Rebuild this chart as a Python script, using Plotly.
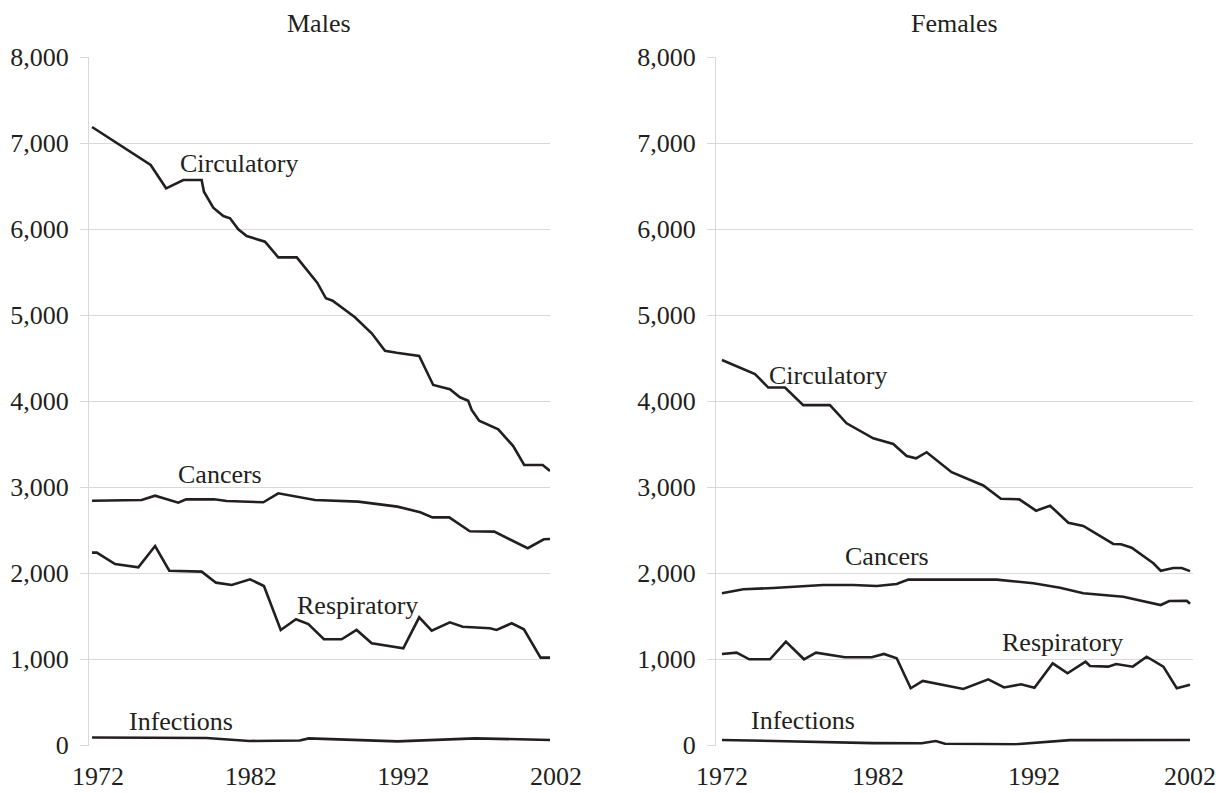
import plotly.graph_objects as go

# ---------------- data ----------------
tick_years = [1972, 1982, 1992, 2002]
y_ticks = [0, 1000, 2000, 3000, 4000, 5000, 6000, 7000, 8000]

# Males
m_circ_x = [1972.0, 1975.84, 1976.85, 1977.98, 1979.18, 1979.33, 1979.94, 1980.6, 1981.04, 1981.58,
            1982.13, 1983.33, 1984.2, 1985.41, 1986.75, 1987.32, 1987.76, 1989.22, 1990.32, 1991.19,
            1991.95, 1993.43, 1994.35, 1995.44, 1996.1, 1996.64, 1996.87, 1997.36, 1998.61, 1999.59,
            2000.31, 2001.52, 2002.0]
m_circ_y = [7190, 6748, 6477, 6573, 6573, 6437, 6251, 6155, 6128, 6000,
            5922, 5856, 5674, 5674, 5379, 5198, 5170, 4977, 4791, 4588,
            4565, 4527, 4190, 4140, 4047, 4007, 3899, 3774, 3674, 3480,
            3259, 3259, 3190]

m_canc_x = [1972.0, 1975.25, 1976.13, 1977.65, 1978.16, 1979.99, 1980.82, 1983.22, 1984.2, 1985.29,
            1986.6, 1989.44, 1992.0, 1993.5, 1994.3, 1995.4, 1996.75, 1998.35, 2000.54, 2001.6, 2002.0]
m_canc_y = [2844, 2852, 2902, 2821, 2860, 2860, 2841, 2826, 2930, 2891,
            2852, 2833, 2775, 2710, 2650, 2650, 2488, 2484, 2291, 2395, 2399]

m_resp_x = [1972.0, 1972.31, 1973.51, 1975.03, 1976.13, 1977.06, 1979.18, 1980.12, 1981.15, 1982.35,
            1983.26, 1984.36, 1985.36, 1986.17, 1987.19, 1988.35, 1989.33, 1990.32, 1992.39, 1993.43,
            1994.25, 1995.44, 1996.28, 1998.06, 1998.5, 1999.49, 2000.29, 2001.38, 2002.0]
m_resp_y = [2240, 2240, 2108, 2070, 2317, 2030, 2019, 1891, 1864, 1930,
            1852, 1341, 1465, 1410, 1233, 1233, 1341, 1186, 1128, 1488,
            1333, 1430, 1379, 1360, 1341, 1419, 1349, 1019, 1019]

m_inf_x = [1972.0, 1976.0, 1979.5, 1982.3, 1985.6, 1986.2, 1988.3, 1992.0, 1997.1, 2002.0]
m_inf_y = [90, 88, 85, 50, 55, 80, 66, 45, 80, 62]

# Females
f_circ_x = [1972.0, 1974.12, 1974.97, 1976.04, 1977.21, 1978.92, 1979.99, 1981.7, 1982.98, 1983.84,
            1984.44, 1985.12, 1986.72, 1988.75, 1989.88, 1991.06, 1992.13, 1993.03, 1994.2, 1995.16,
            1997.08, 1997.58, 1998.26, 1999.65, 2000.12, 2000.93, 2001.47, 2002.0]
f_circ_y = [4480, 4317, 4160, 4160, 3955, 3955, 3744, 3570, 3503, 3364,
            3337, 3408, 3176, 3021, 2866, 2860, 2728, 2786, 2588, 2550,
            2341, 2337, 2298, 2116, 2030, 2062, 2062, 2025]

f_canc_x = [1972.0, 1973.37, 1975.29, 1978.49, 1980.42, 1981.92, 1983.2, 1983.94, 1989.61, 1991.96,
            1993.67, 1995.16, 1997.72, 1999.01, 2000.12, 2000.67, 2001.79, 2002.0]
f_canc_y = [1767, 1814, 1829, 1864, 1864, 1852, 1876, 1926, 1926, 1884,
            1833, 1767, 1728, 1678, 1631, 1678, 1681, 1645]

f_resp_x = [1972.0, 1972.94, 1973.75, 1975.08, 1976.1, 1977.26, 1978.03, 1979.88, 1981.6, 1982.38,
            1983.2, 1984.1, 1984.87, 1987.47, 1989.07, 1990.08, 1991.17, 1992.03, 1993.2, 1994.15,
            1995.3, 1995.59, 1996.76, 1997.26, 1998.33, 1999.22, 2000.29, 2001.15, 2002.0]
f_resp_y = [1062, 1077, 1000, 1000, 1205, 1000, 1077, 1023, 1023, 1062,
            1012, 663, 748, 655, 767, 672, 709, 668, 953, 837,
            972, 922, 914, 945, 914, 1030, 914, 663, 705]

f_inf_x = [1972.0, 1981.7, 1984.8, 1985.7, 1986.3, 1990.8, 1994.3, 2002.0]
f_inf_y = [62, 25, 23, 50, 17, 12, 60, 62]

panel_titles = ["Males", "Females"]

# label names and positions (x year, y value)
male_labels = [("Circulatory", 1981.6, 6760), ("Cancers", 1980.4, 3145),
               ("Respiratory", 1989.4, 1630), ("Infections", 1977.8, 275)]
female_labels = [("Circulatory", 1978.8, 4300), ("Cancers", 1982.6, 2190),
                 ("Respiratory", 1993.8, 1200), ("Infections", 1977.2, 288)]

# ---------------- figure ----------------
W, H = 1216, 793
FONT = "Liberation Serif, Times New Roman, serif"
INK = "#231f20"
GRID = "#d9d9d9"

fig = go.Figure()
line = dict(color=INK, width=2.6)
for xs, ys, ax in [(m_circ_x, m_circ_y, "x"), (m_canc_x, m_canc_y, "x"),
                   (m_resp_x, m_resp_y, "x"), (m_inf_x, m_inf_y, "x"),
                   (f_circ_x, f_circ_y, "x2"), (f_canc_x, f_canc_y, "x2"),
                   (f_resp_x, f_resp_y, "x2"), (f_inf_x, f_inf_y, "x2")]:
    fig.add_trace(go.Scatter(x=xs, y=ys, mode="lines", line=line,
                             xaxis=ax, yaxis="y" if ax == "x" else "y2",
                             showlegend=False, hoverinfo="skip"))

y_bot = (H - 745.7) / H
y_top = (H - 56.9) / H

yax = dict(range=[-5, 8005], tickvals=y_ticks, tickformat=",",
           showgrid=True, gridcolor=GRID, gridwidth=1.3,
           showline=True, linecolor=GRID, linewidth=1.3,
           ticks="outside", ticklen=8, tickcolor=GRID, tickwidth=1.3,
           zeroline=False, domain=[y_bot, y_top], automargin=False,
           tickfont=dict(family=FONT, size=26, color=INK), ticklabelstandoff=6)
xax = dict(tickvals=tick_years, ticktext=[str(t) for t in tick_years],
           showgrid=False, showline=False, zeroline=False, ticks="",
           automargin=False, ticklabeloverflow="allow",
           tickfont=dict(family=FONT, size=26, color=INK), ticklabelstandoff=12)

fig.update_layout(
    width=W, height=H, margin=dict(l=0, r=0, t=0, b=0, autoexpand=False),
    paper_bgcolor="white", plot_bgcolor="white",
    xaxis=dict(xax, domain=[89 / W, 550 / W], range=[1971.80, 2002.0],
               anchor="y", ticklabelshift=6),
    yaxis=dict(yax, anchor="x"),
    xaxis2=dict(xax, domain=[716 / W, 1193 / W], range=[1971.62, 2002.19],
                anchor="y2", ticklabelshift=0),
    yaxis2=dict(yax, anchor="x2"),
)

ann = []
for (name, xv, yv) in male_labels:
    ann.append(dict(text=name, x=xv, y=yv, xref="x", yref="y", showarrow=False,
                    xanchor="center", yanchor="middle",
                    font=dict(family=FONT, size=26, color=INK)))
for (name, xv, yv) in female_labels:
    ann.append(dict(text=name, x=xv, y=yv, xref="x2", yref="y2", showarrow=False,
                    xanchor="center", yanchor="middle",
                    font=dict(family=FONT, size=26, color=INK)))
for title, (a, b) in zip(panel_titles, [(89, 550), (716, 1193)]):
    ann.append(dict(text=title, x=(a + b) / 2 / W, y=(H - 23) / H, xref="paper", yref="paper",
                    showarrow=False, xanchor="center", yanchor="middle",
                    font=dict(family=FONT, size=26, color=INK)))
fig.update_layout(annotations=ann)

fig.write_html(
    "out.html",
    config={"displayModeBar": False},
    post_script="document.body.style.margin='0';document.body.style.overflow='hidden';",
)
